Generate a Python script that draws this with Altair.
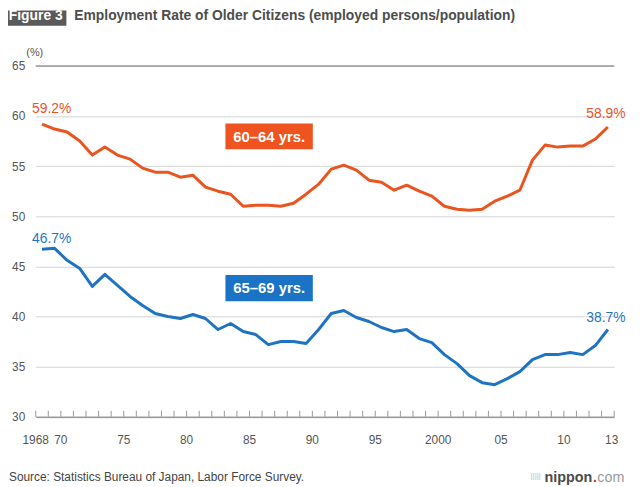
import altair as alt
import pandas as pd

# ---------------- data ----------------
years = list(range(1968, 2014))
rate_60_64 = [59.2, 58.7, 58.4, 57.5, 56.1, 56.9, 56.1, 55.7, 54.8, 54.4,
              54.4, 53.9, 54.1, 52.9, 52.5, 52.2, 51.0, 51.1, 51.1, 51.0,
              51.3, 52.2, 53.2, 54.7, 55.1, 54.6, 53.6, 53.4, 52.6, 53.1,
              52.5, 52.0, 51.0, 50.7, 50.6, 50.7, 51.5, 52.0, 52.6, 55.6,
              57.1, 56.9, 57.0, 57.0, 57.7, 58.9]
rate_65_69 = [46.7, 46.8, 45.6, 44.8, 43.0, 44.2, 43.1, 42.0, 41.1, 40.3,
              40.0, 39.8, 40.2, 39.8, 38.7, 39.3, 38.5, 38.2, 37.2, 37.5,
              37.5, 37.3, 38.7, 40.3, 40.6, 39.9, 39.5, 38.9, 38.5, 38.7,
              37.8, 37.4, 36.2, 35.3, 34.1, 33.4, 33.2, 33.8, 34.5, 35.7,
              36.2, 36.2, 36.4, 36.2, 37.1, 38.7]
series_names = ["60–64 yrs.", "65–69 yrs."]
series_colors = ["#e9541f", "#1f74c2"]
box_colors = ["#ef5320", "#1b73c6"]

y_ticks = [30, 35, 40, 45, 50, 55, 60, 65]
x_tick_years = [1968, 1970, 1975, 1980, 1985, 1990, 1995, 2000, 2005, 2010, 2013]
x_tick_labels = ["1968", "70", "75", "80", "85", "90", "95", "2000", "05", "10", "13"]

title_text = "Employment Rate of Older Citizens (employed persons/population)"
fig_label = "Figure 3"
source_text = "Source: Statistics Bureau of Japan, Labor Force Survey."

# ---------------- layout ----------------
FONT = "Liberation Sans"
W, H = 584.5, 354.5
PAD = {"left": 28, "top": 56, "right": 18, "bottom": 70}
GRAY = "#555555"

df = pd.DataFrame({
    "year": years * 2,
    "value": rate_60_64 + rate_65_69,
    "series": [series_names[0]] * len(years) + [series_names[1]] * len(years),
})

# boundaries between year bands (where the axis ticks sit)
bounds = [y - 0.5 for y in years] + [years[-1] + 0.5]
label_pos = [y + 0.3 if y == years[-1] else y - 0.5 for y in x_tick_years]

xscale = alt.Scale(domain=[bounds[0], bounds[-1]], nice=False, zero=False)
yscale = alt.Scale(domain=[30, 65], nice=False, zero=False)

lines = alt.Chart(df).mark_line(strokeWidth=3, strokeJoin="round").encode(
    x=alt.X("year:Q", scale=xscale, axis=alt.Axis(
        values=bounds, grid=False, ticks=False, tickSize=0, domain=True,
        domainColor="#999999", domainWidth=1.5, labels=False, title=None)),
    y=alt.Y("value:Q", scale=yscale, axis=alt.Axis(
        values=y_ticks, grid=True, gridColor="#d3d3d3", gridWidth=1,
        domain=False, ticks=False, tickSize=0, labelPadding=11,
        labelFont=FONT, labelFontSize=12, labelColor=GRAY, title=None)),
    color=alt.Color("series:N", scale=alt.Scale(domain=series_names, range=series_colors),
                    legend=None),
)

top_rule = alt.Chart(pd.DataFrame({"value": [y_ticks[-1]]})).mark_rule(
    color="#9a9a9a", strokeWidth=1.5).encode(y=alt.Y("value:Q", scale=yscale))

ticks = alt.Chart(pd.DataFrame({"year": bounds})).mark_rule(
    color="#999999", strokeWidth=1).encode(
    x=alt.X("year:Q", scale=xscale), y=alt.value(H), y2=alt.value(H - 6))

xlabels = alt.Chart(pd.DataFrame({"year": label_pos, "lab": x_tick_labels})).mark_text(
    font=FONT, fontSize=12, color=GRAY, align="center", baseline="middle").encode(
    x=alt.X("year:Q", scale=xscale), y=alt.value(H + 23.5), text="lab:N")

# end-point labels
def end_label(series_idx, first, dx, dy, align):
    vals = rate_60_64 if series_idx == 0 else rate_65_69
    i = 0 if first else -1
    d = pd.DataFrame({"year": [years[i]], "value": [vals[i]],
                      "txt": [f"{vals[i]:.1f}%"]})
    return alt.Chart(d).mark_text(
        font=FONT, fontSize=14, color=series_colors[series_idx], align=align,
        baseline="middle", dx=dx, dy=dy).encode(
        x=alt.X("year:Q", scale=xscale),
        y=alt.Y("value:Q", scale=yscale), text="txt:N")

lbl1 = end_label(0, True, -10, -15, "left")
lbl2 = end_label(0, False, -2, -13.5, "center")
lbl3 = end_label(1, True, -10, -10.7, "left")
lbl4 = end_label(1, False, -2, -11.7, "center")

one = pd.DataFrame({"k": [0]})

def box(x1, x2, y1, y2, color):
    return alt.Chart(one).mark_rect(color=color).encode(
        x=alt.value(x1), x2=alt.value(x2), y=alt.value(y1), y2=alt.value(y2))

def txt(s, x, y, size, color, weight="normal", align="left", baseline="alphabetic"):
    return alt.Chart(one).mark_text(
        text=s, font=FONT, fontSize=size, color=color, fontWeight=weight,
        align=align, baseline=baseline).encode(x=alt.value(x), y=alt.value(y))

box1 = box(191.7, 280, 58.3, 84.3, box_colors[0])
box1t = txt(series_names[0], 235.9, 71.5, 15, "white", "bold", "center", "middle")
box2 = box(191.7, 280, 211.3, 237.7, box_colors[1])
box2t = txt(series_names[1], 235.9, 224.7, 15, "white", "bold", "center", "middle")

figbox = box(-28, 31, -56, -40.5, "#5a5a5a")
figt = txt(fig_label, 0, -46, 14, "white", "bold", "center")
titlet = txt(title_text, 39, -46, 14, "#4d4d4d", "bold", "left")
unit = txt("(%)", -1, -13, 11, GRAY, "normal", "center", "middle")
source = txt(source_text, -27, 415, 12, "#444444", "normal", "left", "middle")
icon = txt("|||||", 500, 414.5, 8, "#bbbbbb", "normal", "left", "middle")
logo1 = txt("nippon", 514, 420, 14.5, "#4a4a4a", "bold", "left")
logo2 = txt(".", 563, 420, 14.5, "#e0301e", "bold", "left")
logo3 = txt("com", 567.5, 420, 14.5, "#9a9a9a", "normal", "left")

chart = alt.layer(
    lines, top_rule, ticks, xlabels, lbl1, lbl2, lbl3, lbl4,
    box1, box1t, box2, box2t, figbox, figt, titlet, unit, source,
    icon, logo1, logo2, logo3,
).properties(
    width=W, height=H,
    autosize=alt.AutoSizeParams(type="none"),
    padding=PAD,
    background="white",
).configure_view(stroke=None)

chart.save("out.html", embed_options={"renderer": "svg", "actions": False})
